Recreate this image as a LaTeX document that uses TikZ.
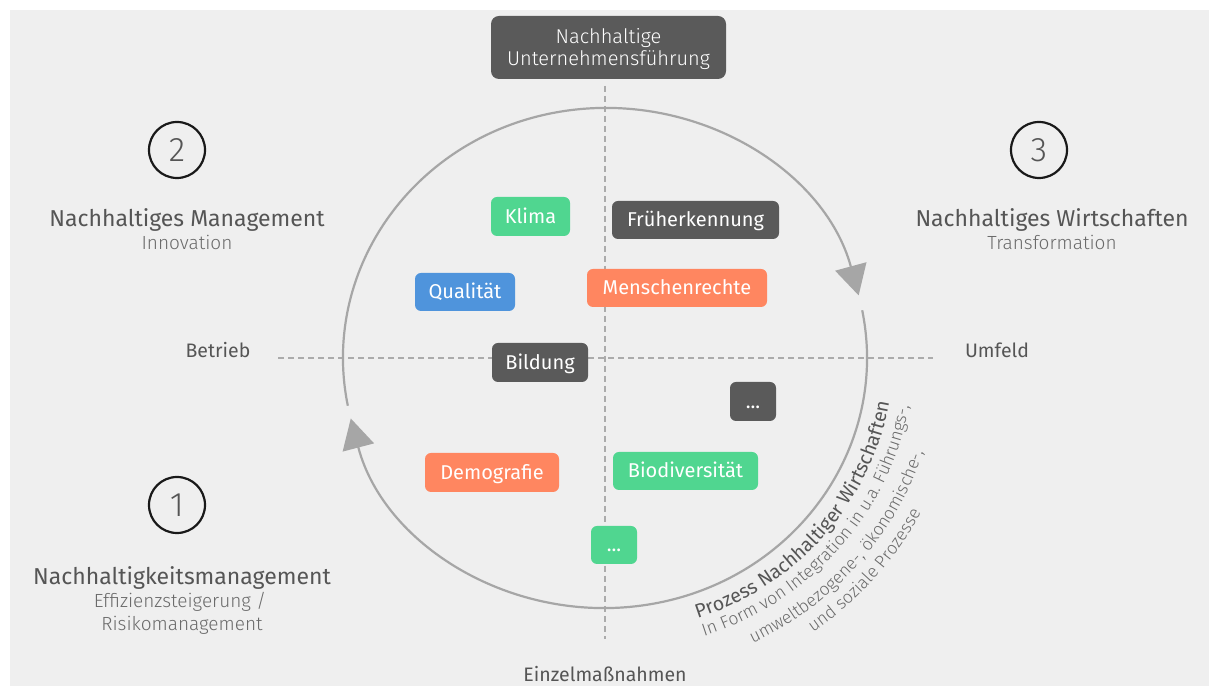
\documentclass[tikz,border=0pt]{standalone}
\usepackage{fontspec}
\setmainfont{Fira Sans}
\newfontfamily\lightfont{Fira Sans Light}
\newfontfamily\mediumfont{Fira Sans Medium}
\usetikzlibrary{arrows.meta,decorations.text}
\definecolor{bg}{HTML}{EFEFEF}
\definecolor{boxdark}{HTML}{5A5A5A}
\definecolor{boxgreen}{HTML}{50D690}
\definecolor{boxblue}{HTML}{4F94DC}
\definecolor{boxorange}{HTML}{FF8660}
\definecolor{ringgray}{HTML}{A6A6A6}
\definecolor{dashgray}{HTML}{ABABAB}
\definecolor{txtdark}{HTML}{555555}
\definecolor{txtlight}{HTML}{6A6A6A}
\newcommand\curveA{\fontsize{19.5bp}{22bp}\selectfont}
\newcommand\curveB{\lightfont\fontsize{17.5bp}{20bp}\selectfont}
\begin{document}
\begin{tikzpicture}[x=1bp,y=1bp,
  tag/.style={rounded corners=6bp, text=white, inner sep=0pt, anchor=center,
    font=\fontsize{20bp}{23bp}\selectfont, text height=13.8bp, text depth=0pt},
  dashline/.style={draw=dashgray, line width=2bp, dash pattern=on 6bp off 4bp},
  ring/.style={draw=ringgray, line width=2.2bp, -{Triangle[length=30bp,width=32bp,fill=ringgray]}},
  numcirc/.style={circle, draw=black!90, line width=2.2bp, minimum size=56bp, inner sep=0pt,
    text=txtdark, font=\lightfont\fontsize{34bp}{40bp}\selectfont, text height=23.4bp, text depth=0pt},
  head/.style={anchor=base, text=txtdark, font=\fontsize{23bp}{27bp}\selectfont, inner sep=0pt},
  sub/.style={anchor=base, text=txtlight, font=\lightfont\fontsize{19bp}{22bp}\selectfont, inner sep=0pt},
  axis/.style={anchor=base, text=txtdark, font=\fontsize{19.5bp}{22bp}\selectfont, inner sep=0pt},
  toptxt/.style={anchor=base, text=white, font=\lightfont\fontsize{20bp}{23bp}\selectfont, inner sep=0pt}
]
\fill[white] (0,0) rectangle (1209,686);
\useasboundingbox (0,0) rectangle (1209,686);
\fill[bg] (10,0) rectangle (1209,676);

% axes
\coordinate (c) at (605,328);
\coordinate (vt) at (605,600);
\coordinate (vb) at (605,47);
\coordinate (hl) at (278,328);
\coordinate (hr) at (933,328);
\draw[dashline] (vt) -- (vb);
\draw[dashline] (hl) -- (hr);

% cycle
\draw[ring] ([shift={(191:262 and 250)}]c) arc[start angle=191, end angle=14.5, x radius=262, y radius=250];
\draw[ring] ([shift={(11:262 and 250)}]c) arc[start angle=11, end angle=-166, x radius=262, y radius=250];

% top box
\node[fill=boxdark, rounded corners=8bp, minimum width=235bp, minimum height=63bp, inner sep=0pt] (top) at (608.5,638.5) {};
\node[toptxt] (topa) at (608.5,642.7) {Nachhaltige};
\node[toptxt] (topb) at (608.5,620) {Unternehmensführung};

% tags
\node[tag, fill=boxgreen, minimum width=79bp, minimum height=39bp] (klima) at (530.5,469.5) {Klima};
\node[tag, fill=boxdark, minimum width=167bp, minimum height=38bp] (frueh) at (695.5,466) {Früherkennung};
\node[tag, fill=boxblue, minimum width=100bp, minimum height=38bp] (qual) at (465,394) {Qualität};
\node[tag, fill=boxorange, minimum width=180bp, minimum height=38bp] (mensch) at (677,398) {Menschenrechte};
\node[tag, fill=boxdark, minimum width=96bp, minimum height=39bp] (bild) at (540,323.5) {Bildung};
\node[tag, fill=boxorange, minimum width=134bp, minimum height=39bp] (demo) at (492,213.5) {Demografie};
\node[tag, fill=boxdark, minimum width=46bp, minimum height=39bp] (dotsa) at (753,284.5) {...};
\node[tag, fill=boxgreen, minimum width=145bp, minimum height=38bp] (bio) at (685.5,215) {Biodiversität};
\node[tag, fill=boxgreen, minimum width=46bp, minimum height=38bp] (dotsb) at (614,141) {...};

% numbered stages
\node[numcirc] (n2) at (177,536) {2};
\node[numcirc] (n3) at (1039,536) {3};
\node[numcirc] (n1) at (177,181) {1};

\node[head] (h2) at (187,459) {Nachhaltiges Management};
\node[sub] (s2) at (187,436) {Innovation};
\node[head] (h3) at (1052,459) {Nachhaltiges Wirtschaften};
\node[sub] (s3) at (1052,436) {Transformation};
\node[head] (h1) at (182,101) {Nachhaltigkeitsmanagement};
\node[sub] (s1a) at (180,78) {Effizienzsteigerung /};
\node[sub] (s1b) at (182,55) {Risikomanagement};

% axis labels
\node[axis] (betrieb) at (218,328) {Betrieb};
\node[axis] (umfeld) at (997,328) {Umfeld};
\node[axis] (einzel) at (605,4) {Einzelmaßnahmen};

% curved text
\path[decorate, decoration={text along path, text={|\curveA|Prozess Nachhaltiger Wirtschaften}, text align=center, text color=txtdark}]
  ([shift={(-85:288 and 275)}]c) arc[start angle=-85, end angle=5, x radius=288, y radius=275];
\path[decorate, decoration={text along path, text={|\curveB|In Form von Integration in u.a. Führungs-,}, text align=center, text color=txtlight}]
  ([shift={(-85:308 and 294)}]c) arc[start angle=-85, end angle=5, x radius=308, y radius=294];
\path[decorate, decoration={text along path, text={|\curveB|umweltbezogene-, ökonomische-,}, text align=center, text color=txtlight}]
  ([shift={(-85:333 and 318)}]c) arc[start angle=-85, end angle=5, x radius=333, y radius=318];
\path[decorate, decoration={text along path, text={|\curveB|und soziale Prozesse}, text align=center, text color=txtlight}]
  ([shift={(-85:355 and 339)}]c) arc[start angle=-85, end angle=5, x radius=355, y radius=339];
\end{tikzpicture}
\end{document}
